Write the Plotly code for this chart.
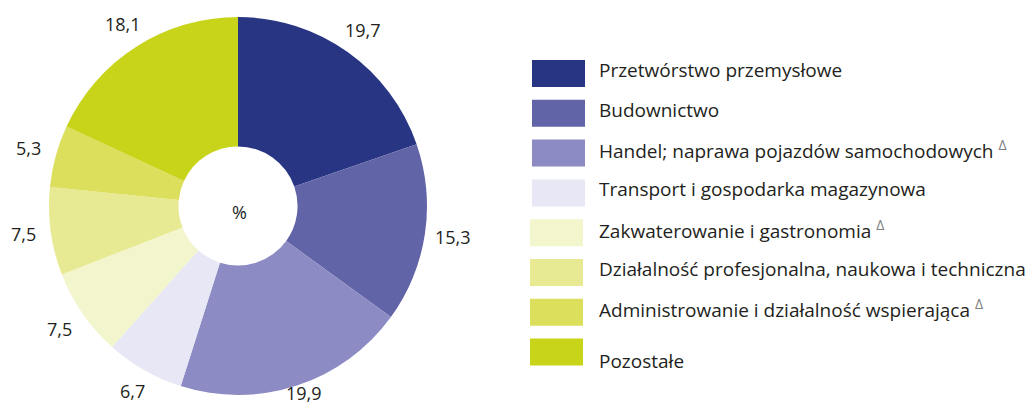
import math
import plotly.graph_objects as go

categories = [
    "Przetwórstwo przemysłowe",
    "Budownictwo",
    "Handel; naprawa pojazdów samochodowych",
    "Transport i gospodarka magazynowa",
    "Zakwaterowanie i gastronomia",
    "Działalność profesjonalna, naukowa i techniczna",
    "Administrowanie i działalność wspierająca",
    "Pozostałe",
]
values = [19.7, 15.3, 19.9, 6.7, 7.5, 7.5, 5.3, 18.1]
delta_flag = [False, False, True, False, True, False, True, False]
colors = ["#283583", "#6264a8", "#8d8bc3", "#e7e7f5", "#f3f5cd", "#e7e993", "#dcdf5c", "#c8d41a"]

labels_txt = [f"{v:.1f}".replace(".", ",") for v in values]

FONT = "Open Sans"
TXT = "#231f20"
W, H = 1028, 407

# pie geometry (pixels)
CX, CY, R = 238, 206, 189

fig = go.Figure()
fig.add_trace(go.Pie(
    labels=categories,
    values=values,
    textinfo="none",
    marker=dict(colors=colors, line=dict(width=0)),
    hole=0.315,
    sort=False,
    direction="clockwise",
    rotation=0,
    showlegend=False,
    domain=dict(x=[(CX - R) / W, (CX + R) / W], y=[1 - (CY + R) / H, 1 - (CY - R) / H]),
    hoverinfo="label+value",
))

annotations = [dict(
    text="%", x=239 / W, y=1 - 212 / H, xref="paper", yref="paper",
    showarrow=False, font=dict(family=FONT, size=18, color=TXT),
    xanchor="center", yanchor="middle",
)]

# value labels outside the slices, placed at each slice's mid-angle
total = sum(values)
cum = 0.0
for v, t in zip(values, labels_txt):
    theta = 2 * math.pi * (cum + v / 2) / total
    cum += v
    s, c = math.sin(theta), math.cos(theta)
    rr = 199 + 17 * abs(s) + 7.5 * abs(c)
    px = CX + rr * s
    py = min(CY - 1 - rr * c, H - 14)
    annotations.append(dict(
        text=t, x=px / W, y=1 - py / H, xref="paper", yref="paper",
        showarrow=False, xanchor="center", yanchor="middle",
        font=dict(family=FONT, size=18, color=TXT),
    ))

# legend drawn as swatches + texts
shapes = []
y0 = 73.5
step = 39.8
for i, (cat, col, d) in enumerate(zip(categories, colors, delta_flag)):
    yc = y0 + i * step
    xs = 532 if i < 4 else 530
    shapes.append(dict(
        type="rect", xref="paper", yref="paper",
        x0=xs / W, x1=(xs + 53) / W,
        y0=1 - (yc + 13.5) / H, y1=1 - (yc - 13.5) / H,
        fillcolor=col, line=dict(width=0),
    ))
    txt = cat
    if d:
        txt += " <sup><span style='font-size:14px;color:#7f7f7f'>Δ</span></sup>"
    ty = yc - 3.5 if i < 7 else yc + 9
    annotations.append(dict(
        text=txt, x=597 / W, y=1 - ty / H, xref="paper", yref="paper",
        showarrow=False, xanchor="left", yanchor="middle", align="left",
        font=dict(family=FONT, size=19, color=TXT),
    ))

fig.update_layout(
    width=W, height=H,
    margin=dict(l=0, r=0, t=0, b=0),
    paper_bgcolor="white", plot_bgcolor="white",
    annotations=annotations, shapes=shapes,
)
fig.write_html("out.html", config={"displayModeBar": False},
               post_script="document.body.style.margin='0';")
